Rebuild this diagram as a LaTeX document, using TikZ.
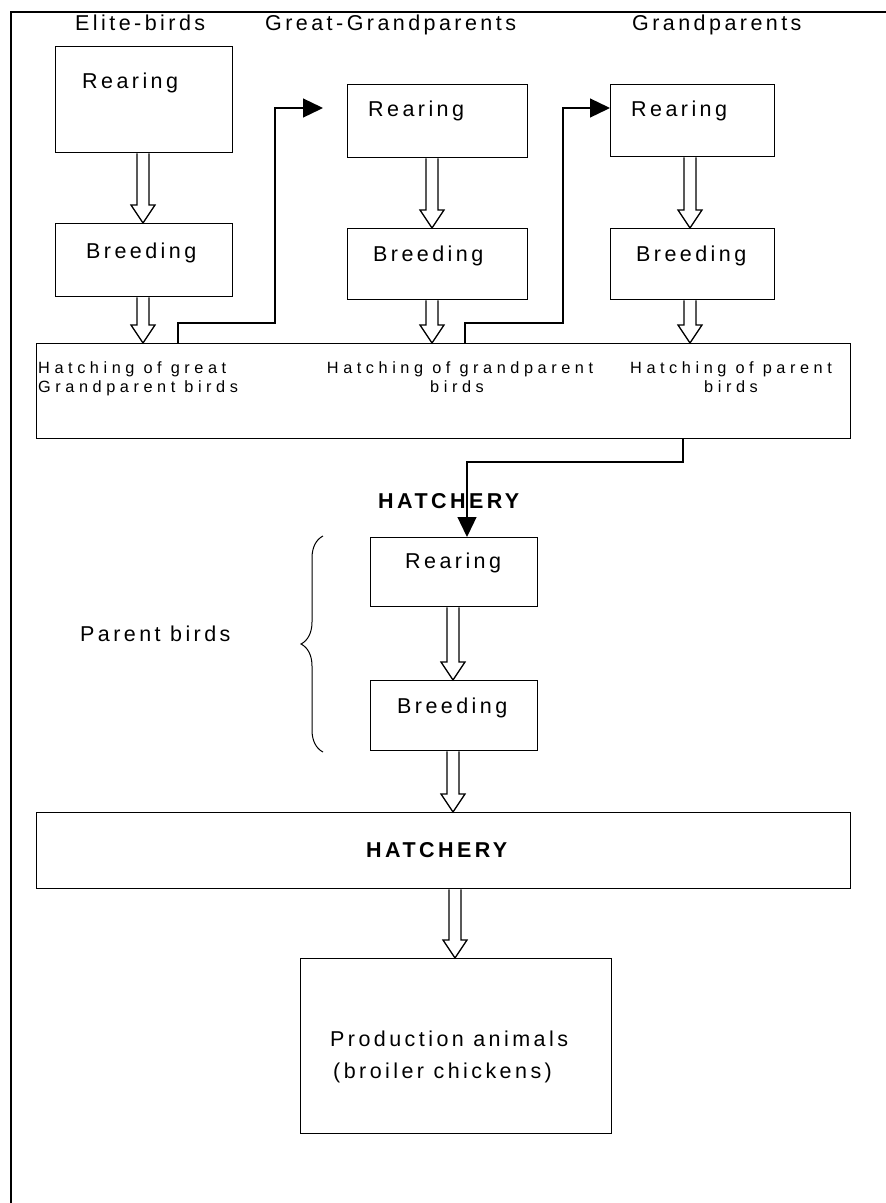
\documentclass[tikz,border=0pt]{standalone}
\usepackage{fontspec}
\setmainfont{Liberation Sans}
\newfontfamily\trackedfont{Liberation Sans}[LetterSpace=16]
\newfontfamily\trackedsmall{Liberation Sans}[LetterSpace=28]
\usetikzlibrary{calc,arrows.meta,decorations.pathreplacing}

\tikzset{
  boxstyle/.style={draw, line width=1.3pt, inner sep=0pt, anchor=north west},
  lbl/.style={inner sep=0pt, font=\fontsize{21.5}{25}\trackedfont},
  lblbold/.style={inner sep=0pt, font=\fontsize{21.5}{25}\trackedfont\bfseries},
  smalllbl/.style={inner sep=0pt, font=\fontsize{16.3}{19}\trackedsmall},
  conn/.style={line width=1.3pt, -{Triangle[length=20pt,width=19pt]}},
  blockarrow/.style={line width=1.3pt, fill=white, line join=miter},
  framestyle/.style={line width=1.5pt},
}

% hollow block arrow from point #1 straight down to the level of point #2
\newcommand\hollowarrow[2]{%
  \draw[blockarrow] let \p1=#1, \p2=#2 in
    (\x1-6pt,\y1) -- (\x1-6pt,\y2+18pt) -- (\x1-12pt,\y2+18pt) -- (\x1,\y2)
    -- (\x1+12pt,\y2+18pt) -- (\x1+6pt,\y2+18pt) -- (\x1+6pt,\y1);}

\begin{document}
\begin{tikzpicture}[x=1pt,y=-1pt]
\clip (0,0) rectangle (886,1203);
\useasboundingbox (0,0) rectangle (886,1203);

% outer frame (open to the right and bottom)
\draw[framestyle] (11,1210) -- (11,12) -- (895,12);

% column headings
\node[lbl, anchor=base west] (hElite) at (75,30) {Elite-birds};
\node[lbl, anchor=base west] (hGGP) at (265,30) {Great-Grandparents};
\node[lbl, anchor=base west] (hGP) at (632,30) {Grandparents};

% elite birds
\node[boxstyle, minimum width=177pt, minimum height=106pt] (eR) at (55,46) {};
\node[boxstyle, minimum width=177pt, minimum height=73pt] (eB) at (55,223) {};
\node[lbl, anchor=base west] (eRt) at (82,88) {Rearing};
\node[lbl, anchor=base west] (eBt) at (86,258) {Breeding};

% great-grandparents
\node[boxstyle, minimum width=180pt, minimum height=73pt] (gR) at (347,84) {};
\node[boxstyle, minimum width=180pt, minimum height=71pt] (gB) at (347,228) {};
\node[lbl, anchor=base west] (gRt) at (368,116) {Rearing};
\node[lbl, anchor=base west] (gBt) at (373,261) {Breeding};

% grandparents
\node[boxstyle, minimum width=164pt, minimum height=72pt] (pR) at (610,84) {};
\node[boxstyle, minimum width=164pt, minimum height=71pt] (pB) at (610,228) {};
\node[lbl, anchor=base west] (pRt) at (631,116) {Rearing};
\node[lbl, anchor=base west] (pBt) at (636,261) {Breeding};

% first hatchery
\node[boxstyle, minimum width=814pt, minimum height=95pt] (hatch) at (36,343) {};
\node[smalllbl, anchor=base west] (ht1a) at (38,373) {Hatching of great};
\node[smalllbl, anchor=base west] (ht1b) at (38,392) {Grandparent birds};
\node[smalllbl, anchor=base] (ht2a) at (460,373) {Hatching of grandparent};
\node[smalllbl, anchor=base] (ht2b) at (457,392) {birds};
\node[smalllbl, anchor=base] (ht3a) at (731,373) {Hatching of parent};
\node[smalllbl, anchor=base] (ht3b) at (731,392) {birds};

% parent birds
\node[lblbold, anchor=base west] (hatchA) at (378,508) {HATCHERY};
\node[boxstyle, minimum width=167pt, minimum height=69pt] (parR) at (370,537) {};
\node[boxstyle, minimum width=167pt, minimum height=70pt] (parB) at (370,680) {};
\node[lbl, anchor=base west] (parRt) at (405,568) {Rearing};
\node[lbl, anchor=base west] (parBt) at (397,713) {Breeding};
\node[lbl, anchor=base west] (parLbl) at (80,641) {Parent birds};
\draw[line width=1pt, decorate, decoration={brace, amplitude=22pt}]
  (323,752) -- (323,536);

% second hatchery and production
\node[boxstyle, minimum width=814pt, minimum height=76pt] (hatch2) at (36,812) {};
\node[lblbold, anchor=base west] (hatchB) at (366,857) {HATCHERY};
\node[boxstyle, minimum width=311pt, minimum height=175pt] (prod) at (300,958) {};
\node[lbl, anchor=base west] (prodA) at (330,1046) {Production animals};
\node[lbl, anchor=base west] (prodB) at (333,1078) {(broiler chickens)};

% hollow block arrows
\coordinate (eAx) at (143,0);
\coordinate (gAx) at (432,0);
\coordinate (pAx) at (690,0);
\coordinate (parAx) at (453,0);
\coordinate (prodAx) at (455,0);
\hollowarrow{(eAx |- eR.south)}{(eAx |- eB.north)}
\hollowarrow{(eAx |- eB.south)}{(eAx |- hatch.north)}
\hollowarrow{(gAx |- gR.south)}{(gAx |- gB.north)}
\hollowarrow{(gAx |- gB.south)}{(gAx |- hatch.north)}
\hollowarrow{(pAx |- pR.south)}{(pAx |- pB.north)}
\hollowarrow{(pAx |- pB.south)}{(pAx |- hatch.north)}
\hollowarrow{(parAx |- parR.south)}{(parAx |- parB.north)}
\hollowarrow{(parAx |- parB.south)}{(parAx |- hatch2.north)}
\hollowarrow{(prodAx |- hatch2.south)}{(prodAx |- prod.north)}

% connectors from the hatchery to the next generation
\coordinate (c1) at (178,343);
\coordinate (c1end) at (323,108);
\draw[conn] (c1) -- (178,323) -- (275,323) -- (275,108) -- (c1end);
\coordinate (c2) at (465,343);
\draw[conn] (c2) -- (465,323) -- (563,323) -- (563,108) -- (pR.west |- 0,108);
\coordinate (c3) at (683,0);
\coordinate (c3end) at (467,0);
\draw[conn] (c3 |- hatch.south) -- (683,462) -- (467,462) -- (c3end |- parR.north);
\end{tikzpicture}
\end{document}
